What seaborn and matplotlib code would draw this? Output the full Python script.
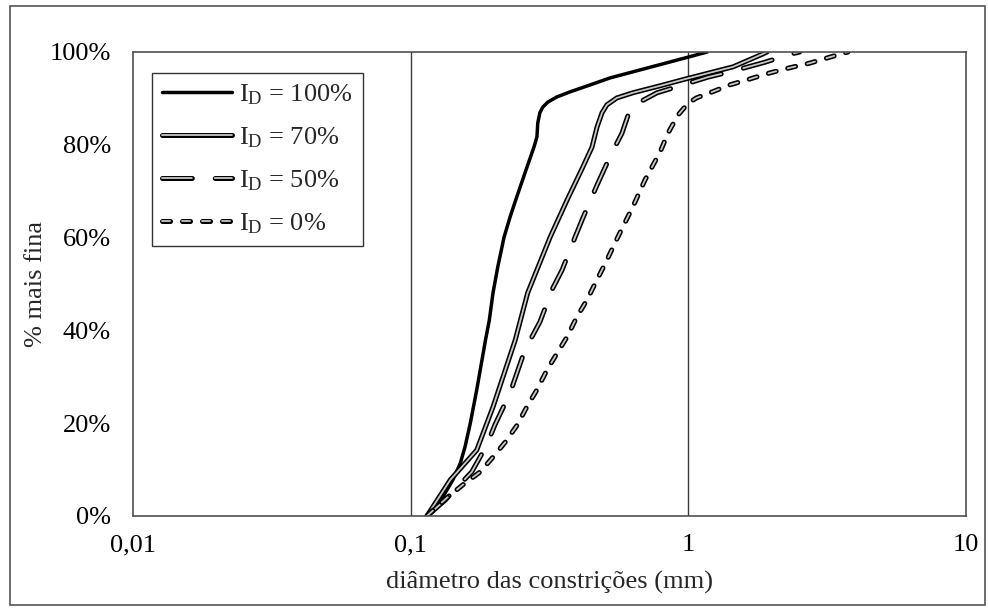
import numpy as np
import pandas as pd
import matplotlib
matplotlib.use("Agg")
import matplotlib.pyplot as plt
import matplotlib.patheffects as pe
from matplotlib.patches import Rectangle
from matplotlib.ticker import FixedLocator, FixedFormatter, NullLocator
import seaborn as sns

# Constriction size distribution curves (diameter in mm, percent finer)
d_100 = [0.1145, 0.1305, 0.142, 0.151, 0.157, 0.164, 0.173, 0.186, 0.192, 0.198,
         0.206, 0.217, 0.228, 0.239, 0.258, 0.278, 0.285, 0.287, 0.292, 0.299,
         0.312, 0.336, 0.375, 0.443, 0.522, 1.00, 1.17]
p_100 = [0.0, 4.1, 7.8, 11.4, 14.9, 20.0, 27.2, 37.9, 42.2, 48.1,
         53.7, 60.1, 64.4, 68.1, 73.9, 79.5, 81.7, 84.7, 86.9, 88.1,
         89.2, 90.3, 91.4, 92.9, 94.4, 98.9, 100.0]

d_70 = [0.1145, 0.139, 0.173, 0.198, 0.238, 0.264, 0.318, 0.366, 0.417, 0.450,
        0.469, 0.489, 0.509, 0.553, 0.631, 0.790, 0.980, 1.45, 1.86, 1.92]
p_70 = [0.0, 7.8, 14.2, 23.5, 37.9, 48.1, 60.1, 68.1, 75.2, 79.5,
        83.8, 86.9, 88.6, 90.1, 91.2, 92.7, 94.2, 96.8, 99.6, 100.0]

d_50 = [0.1145, 0.133, 0.166, 0.188, 0.201, 0.228, 0.258, 0.292, 0.325, 0.351,
        0.391, 0.417, 0.469, 0.522, 0.577, 0.607, 0.640, 0.771, 0.910, 1.18,
        1.41, 1.89, 2.36, 2.52]
p_50 = [0.0, 3.4, 9.5, 15.3, 19.6, 26.5, 35.8, 41.8, 49.1, 53.0,
        60.1, 64.2, 71.3, 77.4, 82.5, 86.4, 88.6, 91.2, 92.5, 94.6,
        95.7, 97.8, 99.6, 100.0]

d_0 = [0.1145, 0.135, 0.154, 0.178, 0.198, 0.219, 0.242, 0.262, 0.285, 0.310,
       0.337, 0.366, 0.397, 0.432, 0.469, 0.505, 0.544, 0.581, 0.631, 0.698,
       0.791, 0.845, 0.918, 1.00, 1.07, 1.22, 1.41, 1.67, 1.97, 2.32,
       2.74, 3.24, 3.76]
p_0 = [0.0, 3.9, 6.7, 9.5, 12.7, 15.9, 19.6, 23.5, 27.2, 31.5,
       35.1, 38.6, 42.9, 46.6, 50.9, 54.7, 58.8, 62.3, 66.6, 72.4,
       78.4, 82.5, 86.4, 89.0, 90.1, 91.4, 92.9, 94.2, 95.5, 96.6,
       97.6, 98.9, 100.0]

series_labels = [r"I$_\mathrm{D}$ = 100%", r"I$_\mathrm{D}$ = 70%",
                 r"I$_\mathrm{D}$ = 50%", r"I$_\mathrm{D}$ = 0%"]
x_ticks = [0.01, 0.1, 1, 10]
x_tick_labels = ["0,01", "0,1", "1", "10"]
y_ticks = [0, 20, 40, 60, 80, 100]
y_tick_labels = ["0%", "20%", "40%", "60%", "80%", "100%"]

sns.set_style("white")
plt.rcParams["font.family"] = ["Liberation Serif", "DejaVu Serif"]
plt.rcParams["mathtext.fontset"] = "custom"
plt.rcParams["mathtext.rm"] = "Liberation Serif"
plt.rcParams["mathtext.it"] = "Liberation Serif:italic"
plt.rcParams["lines.scale_dashes"] = False

FS = 19

fig = plt.figure(figsize=(9.88, 6.10), dpi=100)
ax = fig.add_axes([0.1346, 0.1541, 0.8431, 0.7607])

frames = [pd.DataFrame({"d": d, "p": p}) for d, p in
          [(d_100, p_100), (d_70, p_70), (d_50, p_50), (d_0, p_0)]]

inner = "#c8c8c8"
outline = [pe.Normal(), pe.Stroke(linewidth=1.3, foreground=inner)]

lines = []
# solid heavy line
sns.lineplot(data=frames[0], x="d", y="p", ax=ax, sort=False, estimator=None,
             color="black", linewidth=2.5, solid_capstyle="round",
             solid_joinstyle="round")
lines.append(ax.get_lines()[-1])

# double (outlined) solid line
sns.lineplot(data=frames[1], x="d", y="p", ax=ax, sort=False, estimator=None,
             color="black", linewidth=3.6, solid_capstyle="round",
             solid_joinstyle="round")
ln = ax.get_lines()[-1]
ln.set_path_effects(outline)
lines.append(ln)

# long outlined dashes
sns.lineplot(data=frames[2], x="d", y="p", ax=ax, sort=False, estimator=None,
             color="black", linewidth=3.6)
ln = ax.get_lines()[-1]
ln.set_dashes([21.5, 16.5])
ln.set_dash_capstyle("round")
ln.set_dash_joinstyle("round")
ln.set_path_effects(outline)
lines.append(ln)

# short outlined dashes
sns.lineplot(data=frames[3], x="d", y="p", ax=ax, sort=False, estimator=None,
             color="black", linewidth=3.6)
ln = ax.get_lines()[-1]
ln.set_dashes([5.8, 8.6])
ln.set_dash_capstyle("round")
ln.set_dash_joinstyle("round")
ln.set_path_effects(outline)
lines.append(ln)

ax.set_xscale("log")
ax.set_xlim(0.01, 10)
ax.set_ylim(0, 100)
ax.xaxis.set_major_locator(FixedLocator(x_ticks))
ax.xaxis.set_major_formatter(FixedFormatter(x_tick_labels))
ax.xaxis.set_minor_locator(NullLocator())
ax.yaxis.set_major_locator(FixedLocator(y_ticks))
ax.yaxis.set_major_formatter(FixedFormatter(y_tick_labels))
ax.tick_params(axis="both", length=0, labelsize=FS, colors="black")
ax.tick_params(axis="y", pad=16)
ax.tick_params(axis="x", pad=13)

for gx in [0.1, 1]:
    ax.axvline(gx, color="#3a3a3a", linewidth=1.0, zorder=0.5)

for s in ax.spines.values():
    s.set_visible(True)
    s.set_color("#505050")
    s.set_linewidth(1.2)

ax.set_xlabel("diâmetro das constrições (mm)", fontsize=FS, labelpad=11)
ax.set_ylabel("% mais fina", fontsize=FS, labelpad=2)

leg = ax.legend(handles=lines, labels=series_labels, loc="upper left",
                bbox_to_anchor=(0.023, 0.955), borderaxespad=0,
                fontsize=FS, handlelength=2.65, handletextpad=0.3,
                labelspacing=0.7, frameon=True, fancybox=False,
                borderpad=0.36)
leg.get_frame().set_edgecolor("black")
leg.get_frame().set_linewidth(1.0)

fig.patches.append(Rectangle((0.010, 0.008), 0.987, 0.982, transform=fig.transFigure,
                             fill=False, edgecolor="#555555", linewidth=1.2))

fig.savefig("out.png", dpi=100)
